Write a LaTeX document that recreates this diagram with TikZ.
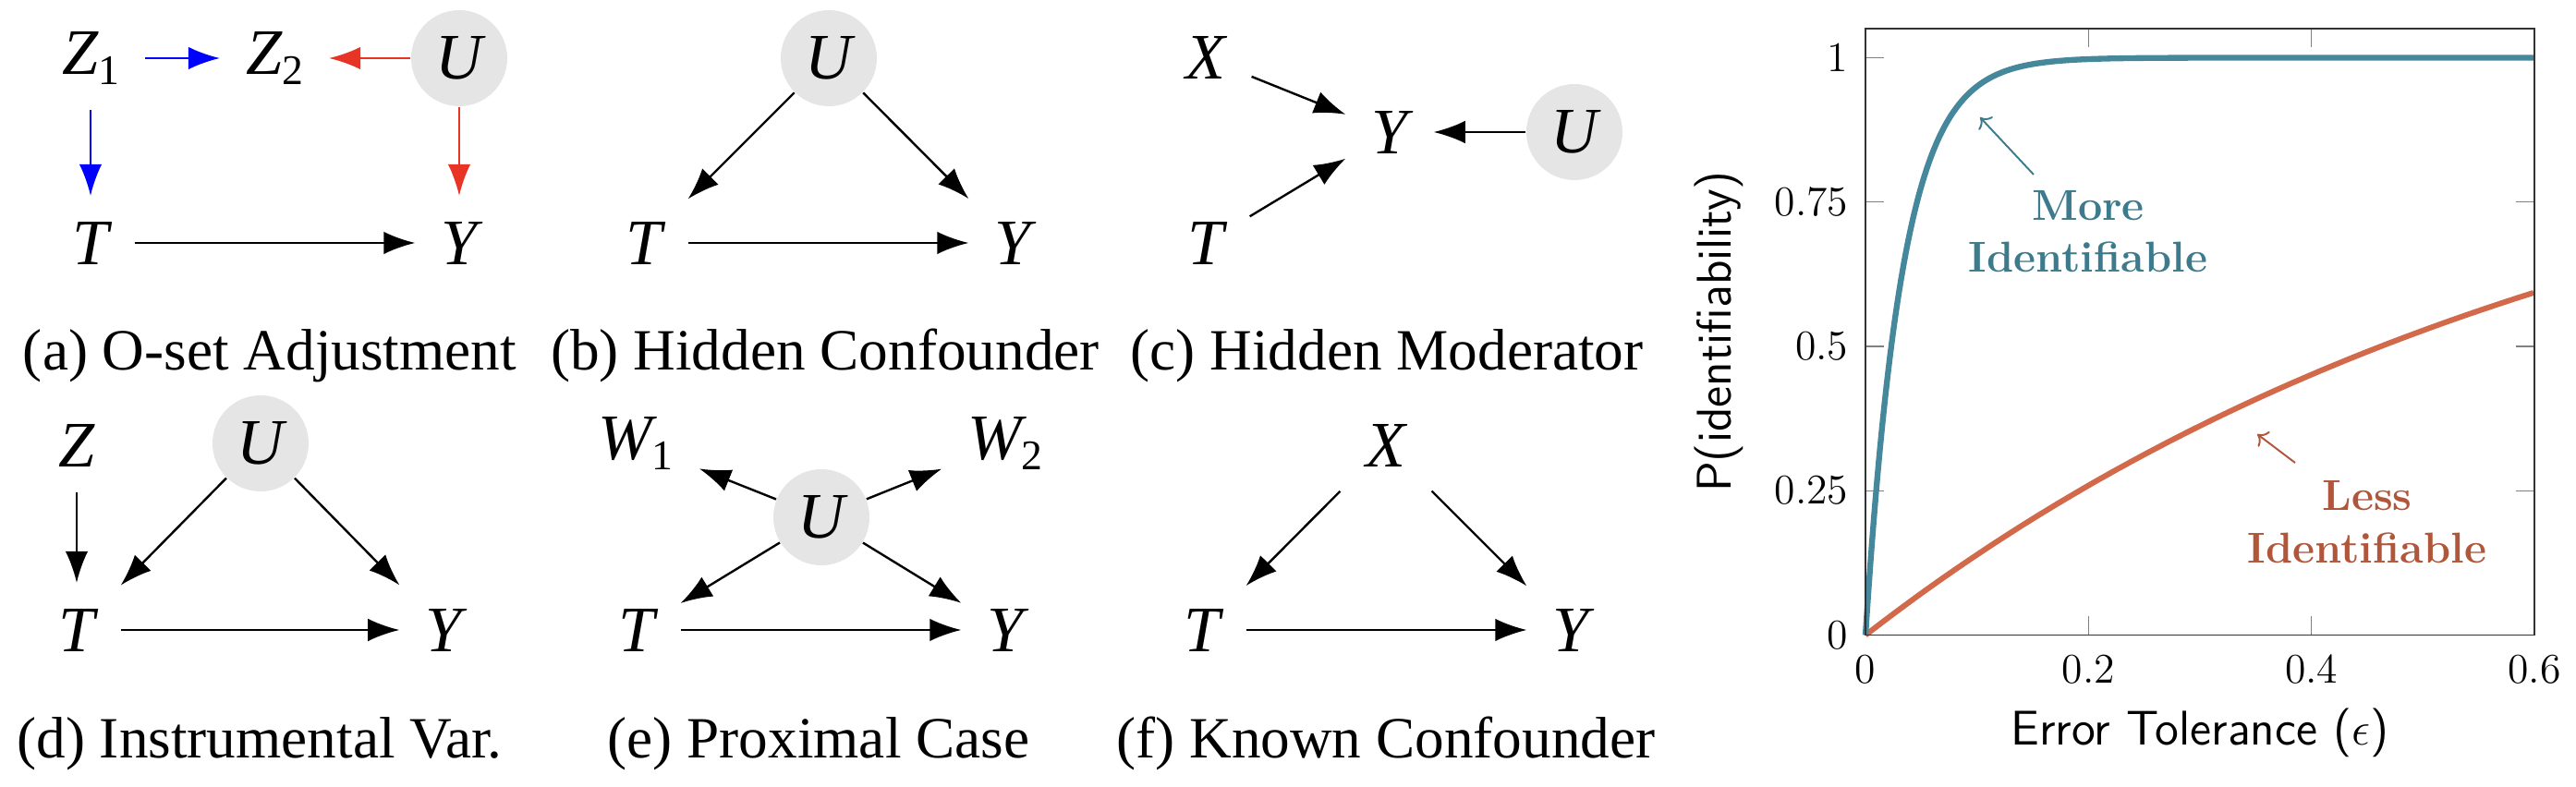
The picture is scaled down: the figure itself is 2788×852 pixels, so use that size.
\documentclass[tikz,border=0pt]{standalone}
\usepackage{fontspec}
\newfontfamily\tms{Liberation Serif}
\usetikzlibrary{arrows.meta}
\definecolor{ublue}{RGB}{0,0,255}
\definecolor{ured}{RGB}{232,52,36}
\definecolor{cblue}{RGB}{70,136,155}
\definecolor{cred}{RGB}{210,105,74}
\definecolor{tblue}{RGB}{60,122,140}
\definecolor{tred}{RGB}{176,86,58}
\newcommand{\vsb}[1]{\raisebox{-2.9pt}{\upshape\fontsize{13}{13}\selectfont #1}}
\begin{document}
\begin{tikzpicture}[x=0.1mm,y=-0.1mm,
  var/.style={inner sep=7.8pt, font=\tms\itshape\fontsize{20}{24}\selectfont},
  hid/.style={circle, fill=black!10, minimum size=10.4mm, inner sep=0pt, font=\tms\itshape\fontsize{20}{24}\selectfont},
  edge/.style={-{Latex[length=9.7pt,width=7pt]}, line width=0.68pt},
  captext/.style={anchor=base, font=\tms\fontsize{18}{22}\selectfont},
  ticklab/.style={inner sep=0pt, font=\fontsize{13}{15}\selectfont},
  axlab/.style={font=\sffamily\fontsize{15}{18}\selectfont},
  note/.style={align=center, font=\bfseries\fontsize{13.3}{16}\selectfont},
  tickmark/.style={gray, line width=0.4pt},
]
\useasboundingbox (0,0) rectangle (2788,852);

% (a) O-set adjustment
\node[var] (aZ1) at (98,63) {Z\vsb{1}};
\node[var] (aZ2) at (297,63) {Z\vsb{2}};
\node[hid] (aU) at (497,63) {U};
\node[var] (aT) at (98,263) {T};
\node[var] (aY) at (497,263) {Y};
\draw[edge, ublue] (aZ1) -- (aZ2);
\draw[edge, ublue] (aZ1) -- (aT);
\draw[edge, ured] (aU) -- (aZ2);
\draw[edge, ured] (aU) -- (aY);
\draw[edge] (aT) -- (aY);
\node[captext] (capa) at (292,401) {(a) O-set Adjustment};

% (b) hidden confounder
\node[hid] (bU) at (897,63) {U};
\node[var] (bT) at (697,263) {T};
\node[var] (bY) at (1096,263) {Y};
\draw[edge] (bU) -- (bT);
\draw[edge] (bU) -- (bY);
\draw[edge] (bT) -- (bY);
\node[captext] (capb) at (893,401) {(b) Hidden Confounder};

% (c) hidden moderator
\node[var] (cX) at (1305,63) {X};
\node[var] (cY) at (1504,143) {Y};
\node[hid] (cU) at (1704,143) {U};
\node[var] (cT) at (1305,263) {T};
\draw[edge] (cX) -- (cY);
\draw[edge] (cT) -- (cY);
\draw[edge] (cU) -- (cY);
\node[captext] (capc) at (1501,401) {(c) Hidden Moderator};

% (d) instrumental variable
\node[var] (dZ) at (83,482) {Z};
\node[hid] (dU) at (282,480) {U};
\node[var] (dT) at (83,682) {T};
\node[var] (dY) at (480,682) {Y};
\draw[edge] (dZ) -- (dT);
\draw[edge] (dU) -- (dT);
\draw[edge] (dU) -- (dY);
\draw[edge] (dT) -- (dY);
\node[captext] (capd) at (281,821) {(d) Instrumental Var.};

% (e) proximal case
\node[var] (eW1) at (688,480) {W\vsb{1}};
\node[var] (eW2) at (1088,480) {W\vsb{2}};
\node[hid] (eU) at (889,560) {U};
\node[var] (eT) at (689,682) {T};
\node[var] (eY) at (1088,682) {Y};
\draw[edge] (eU) -- (eW1);
\draw[edge] (eU) -- (eW2);
\draw[edge] (eU) -- (eT);
\draw[edge] (eU) -- (eY);
\draw[edge] (eT) -- (eY);
\node[captext] (cape) at (886,821) {(e) Proximal Case};

% (f) known confounder
\node[var] (fX) at (1500,482) {X};
\node[var] (fT) at (1301,682) {T};
\node[var] (fY) at (1700,682) {Y};
\draw[edge] (fX) -- (fT);
\draw[edge] (fX) -- (fY);
\draw[edge] (fT) -- (fY);
\node[captext] (capf) at (1500,821) {(f) Known Confounder};

% plot
\foreach \v in {0.25,0.5,0.75,1} {
  \draw[tickmark] (2019,{687.5-625*\v}) -- ++(20,0);
  \draw[tickmark] (2743,{687.5-625*\v}) -- ++(-20,0);
}
\foreach \v in {0.2,0.4} {
  \draw[tickmark] ({2019+1206.67*\v},687.5) -- ++(0,-20);
  \draw[tickmark] ({2019+1206.67*\v},31) -- ++(0,20);
}
\draw[cred, line width=1.7pt] plot[domain=0:0.6, samples=120] ({2019+1206.67*\x},{687.5-625*(1-exp(-1.5*\x))});
\draw[cblue, line width=1.8pt, line join=round] plot[domain=0:0.6, samples=400] ({2019+1206.67*\x},{687.5-625*(1-exp(-30*\x))});
\draw[black!80, line width=0.5pt] (2019,31) rectangle (2743,687.5);

\node[ticklab, anchor=east] (y0) at (2001,687.5) {0};
\node[ticklab, anchor=east] (y1) at (2001,531.25) {0.25};
\node[ticklab, anchor=east] (y2) at (2001,375) {0.5};
\node[ticklab, anchor=east] (y3) at (2001,218.75) {0.75};
\node[ticklab, anchor=east] (y4) at (2001,62.5) {1};
\node[ticklab, anchor=north] (x0) at (2019,708) {0};
\node[ticklab, anchor=north] (x1) at (2260.3,708) {0.2};
\node[ticklab, anchor=north] (x2) at (2501.7,708) {0.4};
\node[ticklab, anchor=north] (x3) at (2743,708) {0.6};

\node[axlab, rotate=90] (ylab) at (1860,359) {P(identifiability)};
\node[axlab] (xlab) at (2381,793) {Error Tolerance ($\epsilon$)};

\node[note, text=tblue] (more) at (2260,251) {More\\Identifiable};
\node[note, text=tred] (less) at (2562,565) {Less\\Identifiable};
\coordinate (mtail) at (2201,189);
\coordinate (mhead) at (2143,127);
\coordinate (ltail) at (2484,501);
\coordinate (lhead) at (2443,470);
\draw[->, tblue, line width=0.55pt] (mtail) -- (mhead);
\draw[->, tred, line width=0.55pt] (ltail) -- (lhead);
\end{tikzpicture}
\end{document}
